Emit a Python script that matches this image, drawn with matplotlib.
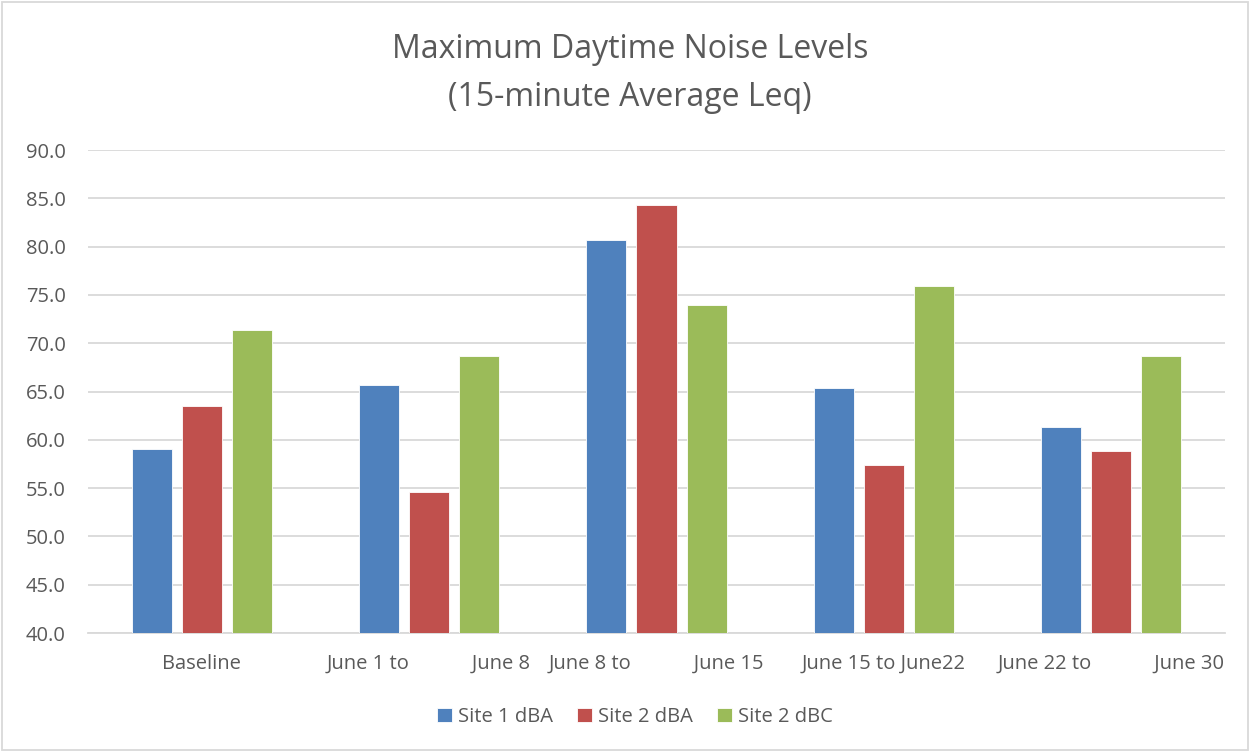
import matplotlib
matplotlib.use("Agg")
import matplotlib.pyplot as plt
import numpy as np
from matplotlib.patches import Rectangle

categories = ["Baseline", "June 1 to            June 8", "June 8 to            June 15",
              "June 15 to June22", "June 22 to            June 30"]
series_names = ["Site 1 dBA", "Site 2 dBA", "Site 2 dBC"]
site1_dba = [59.0, 65.7, 80.7, 65.4, 61.3]
site2_dba = [63.5, 54.6, 84.3, 57.4, 58.8]
site2_dbc = [71.4, 68.7, 74.0, 75.9, 68.7]
colors = ["#4F81BD", "#C0504D", "#9BBB59"]
yticks = np.arange(40, 90.1, 5)

plt.rcParams['font.family'] = ['Open Sans', 'DejaVu Sans']

fig = plt.figure(figsize=(12.5, 7.52), dpi=100)
ax = fig.add_axes([88/1250, 1-633/752, (1225-88)/1250, (633-150)/752])

x = np.arange(len(categories))
w = 0.176
step = 0.22
for i, (vals, c, n) in enumerate(zip([site1_dba, site2_dba, site2_dbc], colors, series_names)):
    ax.bar(x + (i-1)*step, np.array(vals) - 40, bottom=40, width=w, color=c,
           edgecolor="white", linewidth=0.6, label=n, zorder=3)

ax.set_xlim(-0.5, len(categories)-0.5)
ax.set_ylim(40, 90)
ax.set_yticks(yticks)
ax.set_yticklabels([f"{v:.1f}" for v in yticks])
ax.grid(axis='y', color='#D9D9D9', linewidth=1.3, zorder=0)
ax.set_xticks(x)
ax.set_xticklabels(categories)
for s in ['top', 'right', 'left']:
    ax.spines[s].set_visible(False)
ax.spines['bottom'].set_color('#D9D9D9')
ax.spines['bottom'].set_linewidth(1.3)
ax.tick_params(axis='both', length=0, colors='#595959', labelsize=14.5)
ax.tick_params(axis='y', pad=16)
ax.tick_params(axis='x', pad=15)

fig.text(630/1250, 1-50/752, "Maximum Daytime Noise Levels", ha='center', va='center',
         fontsize=23, color='#595959')
fig.text(630/1250, 1-98/752, "(15-minute Average Leq)", ha='center', va='center',
         fontsize=23, color='#595959')

leg = fig.legend(loc='center', bbox_to_anchor=(635/1250, 1-717/752), ncol=3, frameon=False,
                 fontsize=14.5, handlelength=0.75, handleheight=0.75, handletextpad=0.3,
                 columnspacing=1.2, labelcolor='#595959')

fig.patches.append(Rectangle((2/1250, 2/752), 1246/1250, 1-4/752, transform=fig.transFigure,
                             fill=False, edgecolor='#D9D9D9', linewidth=1.3))

fig.savefig("out.png", dpi=100, facecolor='white')
